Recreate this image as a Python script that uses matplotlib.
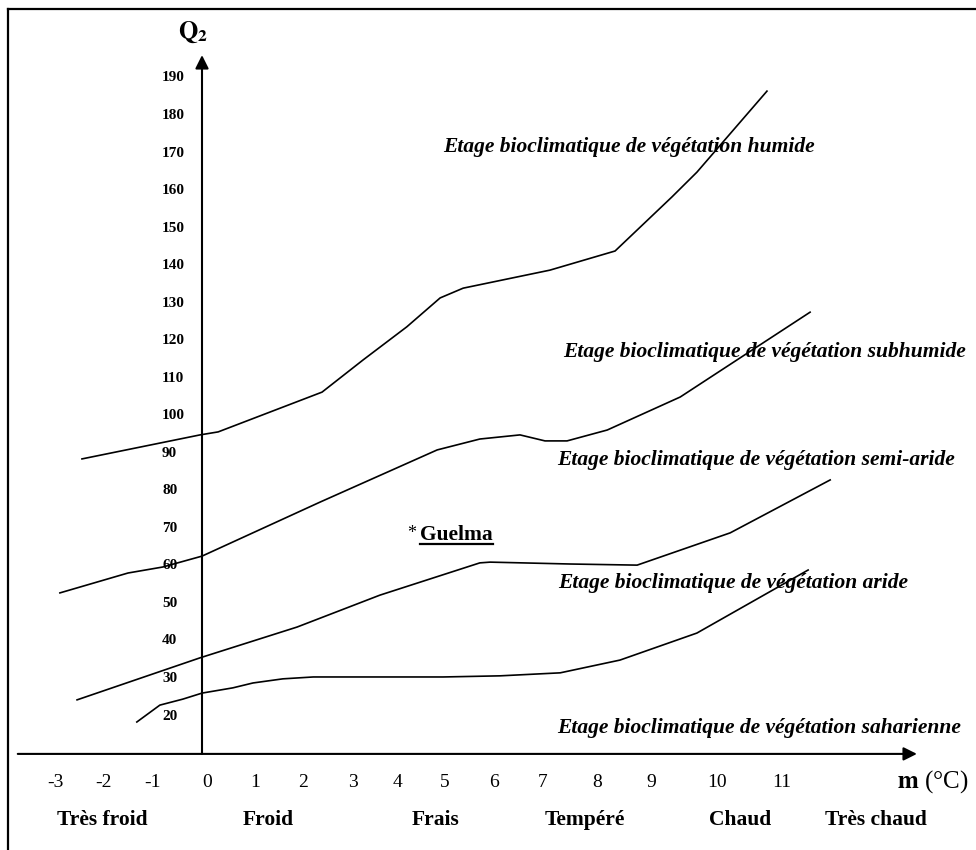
import numpy as np
import matplotlib
matplotlib.use('Agg')
import matplotlib.pyplot as plt
from matplotlib.lines import Line2D

plt.rcParams['font.family'] = ['Liberation Serif', 'DejaVu Serif']
plt.rcParams['mathtext.fontset'] = 'stix'

# limites entre les etages (m en degres C, Q2)
humide_m = [-2.45, -0.04, 0.33, 2.45, 3.29, 4.18, 4.86, 5.33, 7.10, 8.43, 9.59, 10.10, 11.53]
humide_q = [88.5, 94.9, 95.7, 106.3, 114.9, 123.7, 131.4, 134.0, 138.8, 143.9, 158.3, 164.9, 186.5]

subhumide_m = [-2.90, -1.51, -0.80, 0.0, 2.41, 4.80, 5.67, 6.49, 7.00, 7.45, 8.27, 9.76, 12.41]
subhumide_q = [52.8, 58.1, 59.7, 62.6, 77.0, 90.9, 93.8, 94.9, 93.3, 93.3, 96.2, 105.0, 127.6]

aride_m = [-2.55, -0.04, 1.94, 3.63, 5.67, 5.88, 7.51, 8.88, 10.78, 12.82]
aride_q = [24.3, 35.5, 43.7, 52.2, 60.8, 61.0, 60.5, 60.2, 68.8, 82.9]

saharien_m = [-1.33, -0.86, -0.39, 0.0, 0.63, 1.04, 1.65, 2.27, 4.92, 6.08, 7.31, 8.53, 10.10, 12.37]
saharien_q = [18.4, 22.9, 24.5, 26.1, 27.5, 28.8, 29.9, 30.4, 30.4, 30.7, 31.5, 34.9, 42.1, 58.9]

curves = [(humide_m, humide_q), (subhumide_m, subhumide_q),
          (aride_m, aride_q), (saharien_m, saharien_q)]

zone_labels = ['Etage bioclimatique de végétation humide',
               'Etage bioclimatique de végétation subhumide',
               'Etage bioclimatique de végétation semi-aride',
               'Etage bioclimatique de végétation aride',
               'Etage bioclimatique de végétation saharienne']
zone_m = [4.92, 7.37, 7.24, 7.27, 7.24]
zone_q = [171.6, 117.0, 88.2, 55.4, 16.8]

ytick_vals = list(range(20, 200, 10))
xtick_labels = ['-3', '-2', '-1', '0', '1', '2', '3', '4', '5', '6', '7', '8', '9', '10', '11']
xtick_pos = [-3, -2, -1, 0.1, 1.08, 2.06, 3.08, 3.98, 4.96, 5.96, 6.96, 8.06, 9.16, 10.51, 11.84]

categories = ['Très froid', 'Froid', 'Frais', 'Tempéré', 'Chaud', 'Très chaud']
cat_pos = [-2.04, 1.35, 4.76, 7.82, 10.98, 13.76]

station = 'Guelma'
station_m, station_q = 4.45, 68.2

# calage pixel <-> donnees
W, H = 976, 850
x0_px, px_per_m = 202, 49.0
q20_py, py_per_q = 716, 3.753

fig = plt.figure(figsize=(W / 100, H / 100), dpi=100)
ax = fig.add_axes([0, 0, 1, 1])
ax.set_xlim(-x0_px / px_per_m, (W - x0_px) / px_per_m)
ax.set_ylim(20 - (H - q20_py) / py_per_q, 20 + q20_py / py_per_q)
ax.axis('off')

# cadre (gauche + haut seulement)
fig.add_artist(Line2D([8 / W, 8 / W], [0, 1 - 9 / H], color='black', lw=1.6))
fig.add_artist(Line2D([8 / W, 1], [1 - 9 / H, 1 - 9 / H], color='black', lw=1.6))

# axes avec fleches
arrow = dict(arrowstyle='-|>', lw=1.5, color='black', mutation_scale=20, shrinkA=0, shrinkB=0)
ax.annotate('', xy=(0, 196.1), xytext=(0, 9.9), arrowprops=arrow)
ax.annotate('', xy=(14.59, 9.9), xytext=(-3.76, 9.9), arrowprops=arrow)

for m, q in curves:
    ax.plot(m, q, color='black', lw=1.2)

for v in ytick_vals:
    ax.text(-0.816, v, str(v), ha='left', va='center', fontsize=11, fontweight='bold')

for lab, p in zip(xtick_labels, xtick_pos):
    ax.text(p, 2.4, lab, ha='center', va='center', fontsize=14)

for lab, p in zip(categories, cat_pos):
    ax.text(p, -7.7, lab, ha='center', va='center', fontsize=15.5, fontweight='bold')

for lab, m, q in zip(zone_labels, zone_m, zone_q):
    ax.text(m, q, lab, ha='left', va='center', fontsize=15.5, fontstyle='italic', fontweight='bold')

ax.text(-0.18, 202.3, r'$\mathbf{Q_2}$', ha='center', va='center', fontsize=18)
ax.text(15.63, 2.4, r'$\mathbf{m}$ (°C)', ha='right', va='center', fontsize=18)

ax.text(station_m - 0.08, station_q + 0.5, '*', ha='right', va='center', fontsize=13)
t = ax.text(station_m, station_q, station, ha='left', va='center', fontsize=15.5, fontweight='bold')

# soulignement de Guelma
fig.canvas.draw()
bb = t.get_window_extent().transformed(ax.transData.inverted())
ax.plot([bb.x0, bb.x1], [bb.y0 + 0.3, bb.y0 + 0.3], color='black', lw=1.6)

fig.savefig('out.png', dpi=100)
